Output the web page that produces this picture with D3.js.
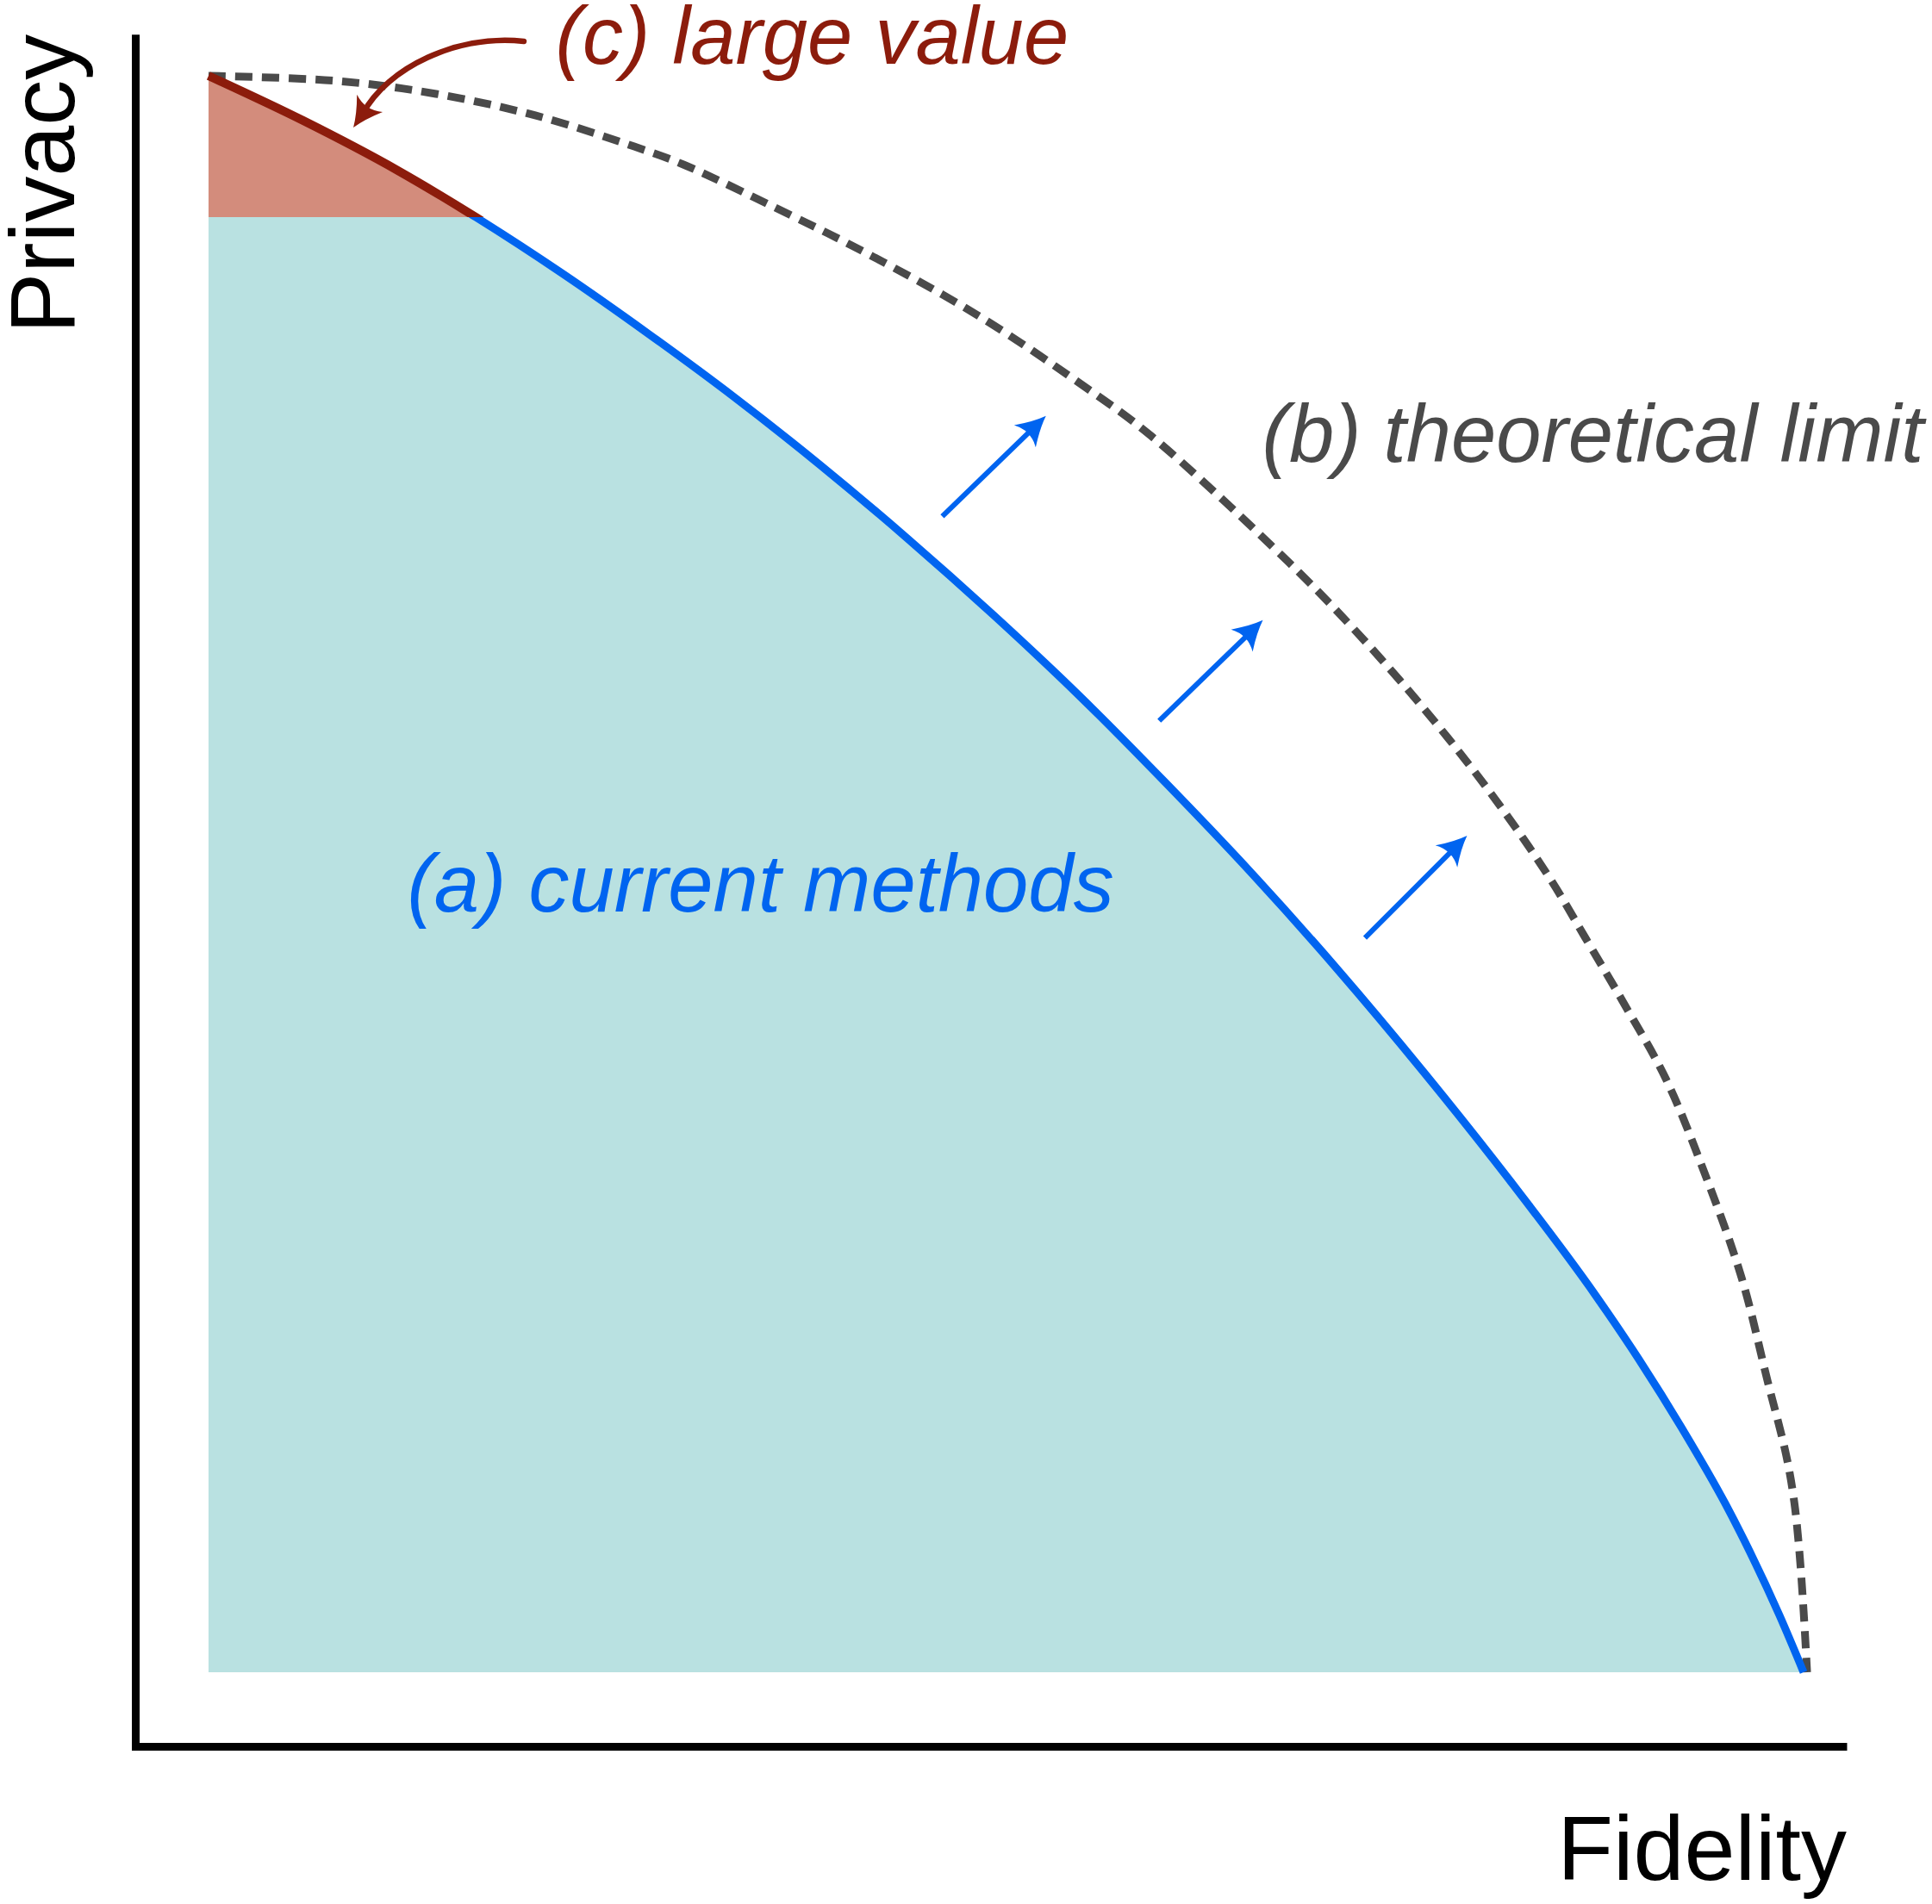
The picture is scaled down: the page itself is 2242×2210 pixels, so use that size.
<!DOCTYPE html>
<html><head><meta charset="utf-8">
<script src="https://cdn.jsdelivr.net/npm/d3@7"></script>
<style>html,body{margin:0;padding:0;background:#fff;} svg{display:block;background:#fff}</style>
</head><body><svg id="chart" width="2242" height="2210"></svg>
<script>
// (a) current methods frontier
const currentFidelity = [0,5.94,11.88,16.75,22.15,27.55,32.96,38.36,43.76,49.16,54.56,59.97,65.37,70.77,76.17,81.58,86.98,89.68,92.38,95.08,96.6,98.49,100];
const currentPrivacy  = [100,97.19,94.06,91.15,87.64,83.86,79.87,75.61,71.07,66.27,61.20,55.75,50.08,44.04,37.61,30.81,23.58,19.59,15.27,10.58,7.61,3.56,0];
// (b) theoretical limit
const limitFidelity = [0,8.05,14.26,20.48,26.69,29.77,36.52,41.27,48.14,54.94,59.10,67.69,71.80,76.17,80.28,84.01,86.49,88.65,91.36,93.84,96.11,97.73,98.92,99.41,99.73,100.0,100.22];
const limitPrivacy  = [100,99.68,98.87,97.52,95.57,94.44,91.26,88.88,85.05,80.52,77.44,69.56,65.35,60.39,55.21,49.86,45.71,42.04,37.18,31.14,24.72,18.29,13.54,10.69,7.61,3.83,0];
// (c) large-value privacy threshold
const largeValueThreshold = 91.15;
// improvement arrows (from -> to)
const arrowFrom = [[46.0,72.4],[59.6,59.6],[72.5,46.0]];
const arrowTo   = [[52.5,78.7],[66.1,65.9],[78.9,52.4]];
// callout arrow for (c): start, c1, c2, end, tip
const calloutPath = [[19.77,102.16],[15.56,102.59],[11.24,100.54],[9.67,97.63],[9.08,96.76]];
// labels
const labelTexts = ["(a) current methods","(b) theoretical limit","(c) large value"];
const labelPos = [[12.45,47.65],[66.05,75.8],[21.75,100.75]];
const axisTitles = ["Fidelity","Privacy"];
const xAxisExtent = [-4.83, 102.7];
const yAxisExtent = [-4.88, 102.6];

const svg = d3.select("#chart");
const x = d3.scaleLinear().domain([0,100]).range([242,2093]);
const y = d3.scaleLinear().domain([0,100]).range([1941,88]);

const C = {teal:"#b9e1e1", redFill:"#d38c7c", red:"#8c1c0c", blue:"#0064f0", gray:"#4a4a4a"};

const cur = currentFidelity.map((f,i)=>[f,currentPrivacy[i]]);
const lim = limitFidelity.map((f,i)=>[f,limitPrivacy[i]]);
const curCurve = d3.curveMonotoneX;
const limCurve = d3.curveCatmullRom.alpha(0.5);

const defs = svg.append("defs");
defs.append("clipPath").attr("id","clipTop").append("rect")
  .attr("x",0).attr("y",0).attr("width",2242).attr("height",y(largeValueThreshold));
defs.append("clipPath").attr("id","clipBottom").append("rect")
  .attr("x",0).attr("y",y(largeValueThreshold)).attr("width",2242).attr("height",2210);

const area = d3.area().x(d=>x(d[0])).y0(y(0)).y1(d=>y(d[1])).curve(curCurve);
const curLine = d3.line().x(d=>x(d[0])).y(d=>y(d[1])).curve(curCurve);
const limLine = d3.line().x(d=>x(d[0])).y(d=>y(d[1])).curve(limCurve);

svg.append("path").datum(cur).attr("d",area).attr("fill",C.teal).attr("clip-path","url(#clipBottom)");
svg.append("path").datum(cur).attr("d",area).attr("fill",C.redFill).attr("clip-path","url(#clipTop)");

// theoretical limit dashed
svg.append("path").datum(lim).attr("d",limLine).attr("fill","none")
  .attr("stroke",C.gray).attr("stroke-width",9).attr("stroke-dasharray","20,11");

// current frontier
svg.append("path").datum(cur).attr("d",curLine).attr("fill","none")
  .attr("stroke",C.blue).attr("stroke-width",9).attr("clip-path","url(#clipBottom)");
svg.append("path").datum(cur).attr("d",curLine).attr("fill","none")
  .attr("stroke",C.red).attr("stroke-width",10).attr("clip-path","url(#clipTop)");

// arrowhead helper
function head(g, tipX, tipY, angle, L, W, color){
  g.append("path")
    .attr("d",`M0,0 Q${-L*0.45},${W*0.3} ${-L},${W} Q${-L*0.7},0 ${-L},${-W} Q${-L*0.45},${-W*0.3} 0,0Z`)
    .attr("transform",`translate(${tipX},${tipY}) rotate(${angle})`)
    .attr("fill",color);
}

// improvement arrows
const ag = svg.append("g");
arrowFrom.forEach((s,i)=>{
  const e = arrowTo[i];
  const x0=x(s[0]), y0=y(s[1]), x1=x(e[0]), y1=y(e[1]);
  const ang = Math.atan2(y1-y0, x1-x0);
  const back = 20;
  ag.append("line").attr("x1",x0).attr("y1",y0)
    .attr("x2",x1-back*Math.cos(ang)).attr("y2",y1-back*Math.sin(ang))
    .attr("stroke",C.blue).attr("stroke-width",6);
  head(ag, x1, y1, ang*180/Math.PI, 34, 18, C.blue);
});

// callout arrow for (c)
const cp = calloutPath.map(d=>[x(d[0]),y(d[1])]);
svg.append("path")
  .attr("d",`M${cp[0][0]},${cp[0][1]} C${cp[1][0]},${cp[1][1]} ${cp[2][0]},${cp[2][1]} ${cp[3][0]},${cp[3][1]}`)
  .attr("fill","none").attr("stroke",C.red).attr("stroke-width",6.5).attr("stroke-linecap","round");
const cang = Math.atan2(cp[4][1]-cp[3][1], cp[4][0]-cp[3][0])*180/Math.PI;
head(svg, cp[4][0], cp[4][1], cang, 34, 18, C.red);

// axes
const xAxisScale = d3.scaleLinear().domain(xAxisExtent).range(xAxisExtent.map(x));
const yAxisScale = d3.scaleLinear().domain(yAxisExtent).range(yAxisExtent.map(y));
const gx = svg.append("g").attr("transform",`translate(0,${y(-4.64)})`)
  .call(d3.axisBottom(xAxisScale).tickValues([]).tickSizeOuter(0));
const gy = svg.append("g").attr("transform",`translate(${x(-4.59)},0)`)
  .call(d3.axisLeft(yAxisScale).tickValues([]).tickSizeOuter(0));
[gx,gy].forEach(g=>g.select(".domain").attr("stroke","#000").attr("stroke-width",9));

// axis titles
const font = "'Liberation Sans', Arial, Helvetica, sans-serif";
svg.append("text").text(axisTitles[0])
  .attr("x",x(xAxisExtent[1])).attr("y",2182).attr("text-anchor","end")
  .attr("font-family",font).attr("font-size",106).attr("fill","#000");
svg.append("text").text(axisTitles[1])
  .attr("transform",`translate(86,${y(yAxisExtent[1])}) rotate(-90)`).attr("text-anchor","end")
  .attr("font-family",font).attr("font-size",106).attr("fill","#000");

// labels
const labelColors = [C.blue, C.gray, C.red];
labelTexts.forEach((t,i)=>{
  svg.append("text").text(t)
    .attr("x",x(labelPos[i][0])).attr("y",y(labelPos[i][1]))
    .attr("font-family",font).attr("font-style","italic").attr("font-size",94)
    .attr("fill",labelColors[i]);
});
</script></body></html>
